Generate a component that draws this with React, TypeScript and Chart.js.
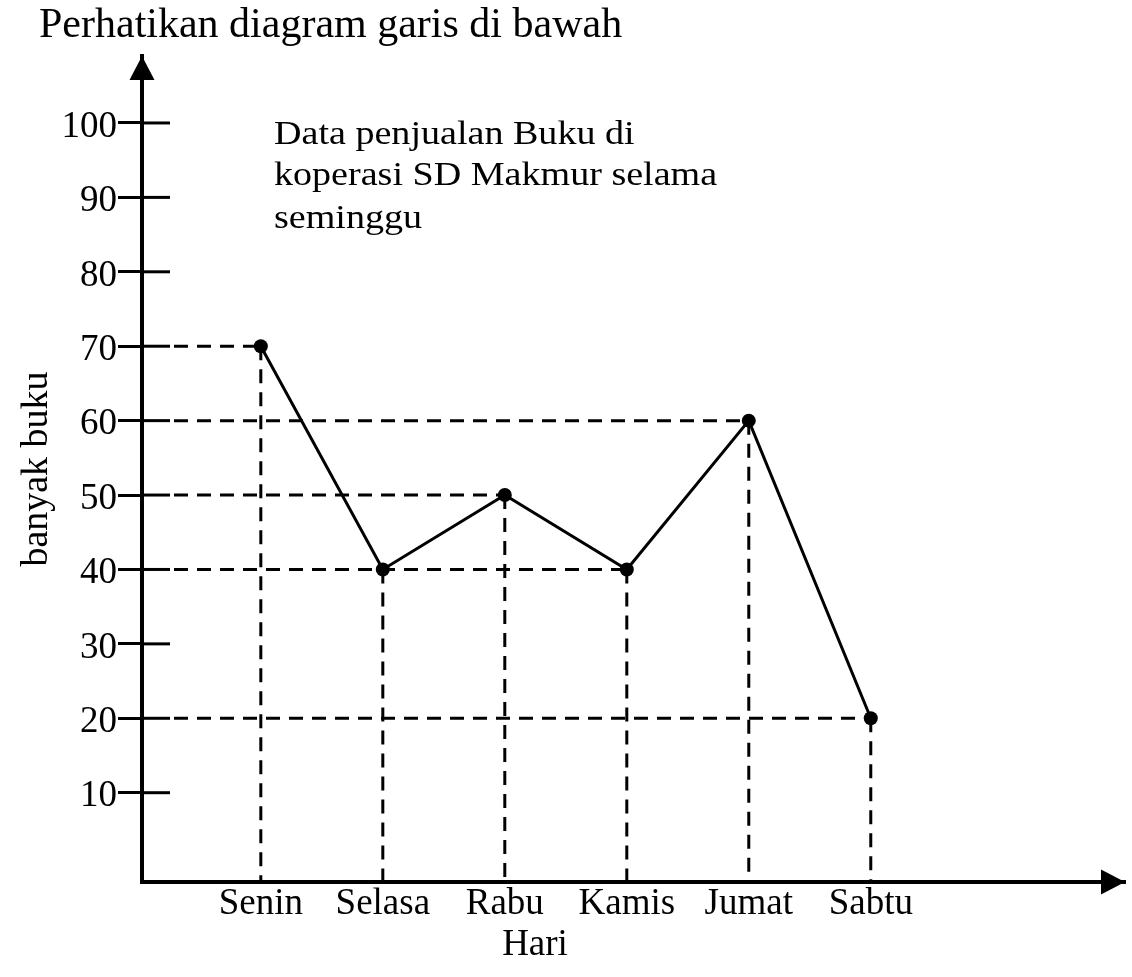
import React, { useEffect, useRef } from 'react';
import { Chart, registerables } from 'chart.js';

Chart.register(...registerables);

// ---- data ----
const DAYS = ['Senin', 'Selasa', 'Rabu', 'Kamis', 'Jumat', 'Sabtu'];
const BOOKS = [70, 40, 50, 40, 60, 20];
const Y_TICKS = [10, 20, 30, 40, 50, 60, 70, 80, 90, 100];

// ---- texts ----
const TITLE = 'Perhatikan diagram garis di bawah';
const NOTE_LINES = ['Data penjualan Buku di', 'koperasi SD Makmur selama', 'seminggu'];
const X_TITLE = 'Hari';
const Y_TITLE = 'banyak buku';

// ---- axis ranges ----
const X_MIN = -0.974;
const X_MAX = 7.084;
const Y_MIN = -2;
const Y_MAX = 109;

const SERIF = "'Liberation Serif', 'Times New Roman', serif";

const decorPlugin = {
  id: 'decor',
  beforeDatasetsDraw(chart: any) {
    const { ctx, chartArea, scales } = chart;
    const x = scales.x;
    const y = scales.y;
    ctx.save();
    ctx.strokeStyle = '#000';
    ctx.lineWidth = 3;
    // right half of each y tick mark
    y.ticks.forEach((t: any) => {
      const py = y.getPixelForValue(t.value);
      ctx.beginPath();
      ctx.moveTo(chartArea.left, py);
      ctx.lineTo(chartArea.left + 28, py);
      ctx.stroke();
    });
    // dashed guide lines to every point
    ctx.setLineDash([14, 9]);
    BOOKS.forEach((v, i) => {
      const px = x.getPixelForValue(i);
      const py = y.getPixelForValue(v);
      ctx.beginPath();
      ctx.moveTo(chartArea.left + 32, py);
      ctx.lineTo(px, py);
      ctx.stroke();
      ctx.beginPath();
      ctx.moveTo(px, py);
      ctx.lineTo(px, chartArea.bottom - 2);
      ctx.stroke();
    });
    ctx.restore();
  },
  afterDraw(chart: any) {
    const { ctx, chartArea } = chart;
    ctx.save();
    ctx.fillStyle = '#000';
    // axis arrows
    ctx.beginPath();
    ctx.moveTo(chartArea.left, chartArea.top);
    ctx.lineTo(chartArea.left - 12.5, chartArea.top + 24);
    ctx.lineTo(chartArea.left + 12.5, chartArea.top + 24);
    ctx.closePath();
    ctx.fill();
    ctx.beginPath();
    ctx.moveTo(chartArea.right, chartArea.bottom);
    ctx.lineTo(chartArea.right - 24, chartArea.bottom - 12.5);
    ctx.lineTo(chartArea.right - 24, chartArea.bottom + 12.5);
    ctx.closePath();
    ctx.fill();
    // title
    ctx.textBaseline = 'alphabetic';
    ctx.textAlign = 'left';
    ctx.font = `42px ${SERIF}`;
    ctx.fillText(TITLE, 39, 37);
    // note
    ctx.font = `34px ${SERIF}`;
    const baselines = [144, 185, 228];
    NOTE_LINES.forEach((line, i) => {
      ctx.save();
      ctx.translate(274, baselines[i]);
      ctx.scale(1.12, 1);
      ctx.fillText(line, 0, 0);
      ctx.restore();
    });
    // x axis title
    ctx.font = `37px ${SERIF}`;
    ctx.textAlign = 'center';
    ctx.fillText(X_TITLE, 535, 955);
    ctx.restore();
  },
};

export default function App() {
  const canvasRef = useRef<HTMLCanvasElement | null>(null);

  useEffect(() => {
    if (!canvasRef.current) return;
    const chart = new Chart(canvasRef.current, {
      type: 'line',
      data: {
        datasets: [
          {
            data: BOOKS.map((v, i) => ({ x: i, y: v })),
            borderColor: '#000',
            borderWidth: 3,
            pointRadius: 7,
            pointHoverRadius: 7,
            pointBackgroundColor: '#000',
            pointBorderWidth: 0,
            tension: 0,
            fill: false,
          },
        ],
      },
      options: {
        animation: false,
        responsive: true,
        maintainAspectRatio: false,
        events: [],
        layout: { padding: { top: 56, right: 3, bottom: 0, left: 0 } },
        plugins: {
          legend: { display: false },
          tooltip: { enabled: false },
          title: { display: false },
        },
        scales: {
          x: {
            type: 'linear',
            min: X_MIN,
            max: X_MAX,
            afterBuildTicks: (s: any) => {
              s.ticks = DAYS.map((_, i) => ({ value: i }));
            },
            afterFit: (s: any) => {
              s.height = 95;
            },
            grid: { display: true, drawOnChartArea: false, drawTicks: false },
            border: { display: true, color: '#000', width: 4 },
            ticks: {
              callback: (v: any) => DAYS[v as number],
              font: { family: SERIF, size: 37 },
              color: '#000',
              padding: 0,
              maxRotation: 0,
              autoSkip: false,
            },
          },
          y: {
            type: 'linear',
            min: Y_MIN,
            max: Y_MAX,
            afterBuildTicks: (s: any) => {
              s.ticks = Y_TICKS.map((v) => ({ value: v }));
            },
            afterFit: (s: any) => {
              s.width = 142;
            },
            grid: {
              display: true,
              drawOnChartArea: false,
              drawTicks: true,
              tickLength: 24,
              tickWidth: 3,
              tickColor: '#000',
            },
            border: { display: true, color: '#000', width: 4 },
            ticks: {
              font: { family: SERIF, size: 37 },
              color: '#000',
              padding: 1,
              labelOffset: 4,
              autoSkip: false,
            },
            title: {
              display: true,
              text: Y_TITLE,
              font: { family: SERIF, size: 38 },
              color: '#000',
              padding: { top: 14, bottom: 0 },
            },
          },
        },
      },
      plugins: [decorPlugin],
    } as any);
    return () => chart.destroy();
  }, []);

  return (
    <div
      style={{
        position: 'fixed',
        left: 0,
        top: 0,
        width: 1132,
        height: 977,
        background: '#fff',
        overflow: 'hidden',
      }}
    >
      <canvas ref={canvasRef} style={{ display: 'block' }} />
    </div>
  );
}
